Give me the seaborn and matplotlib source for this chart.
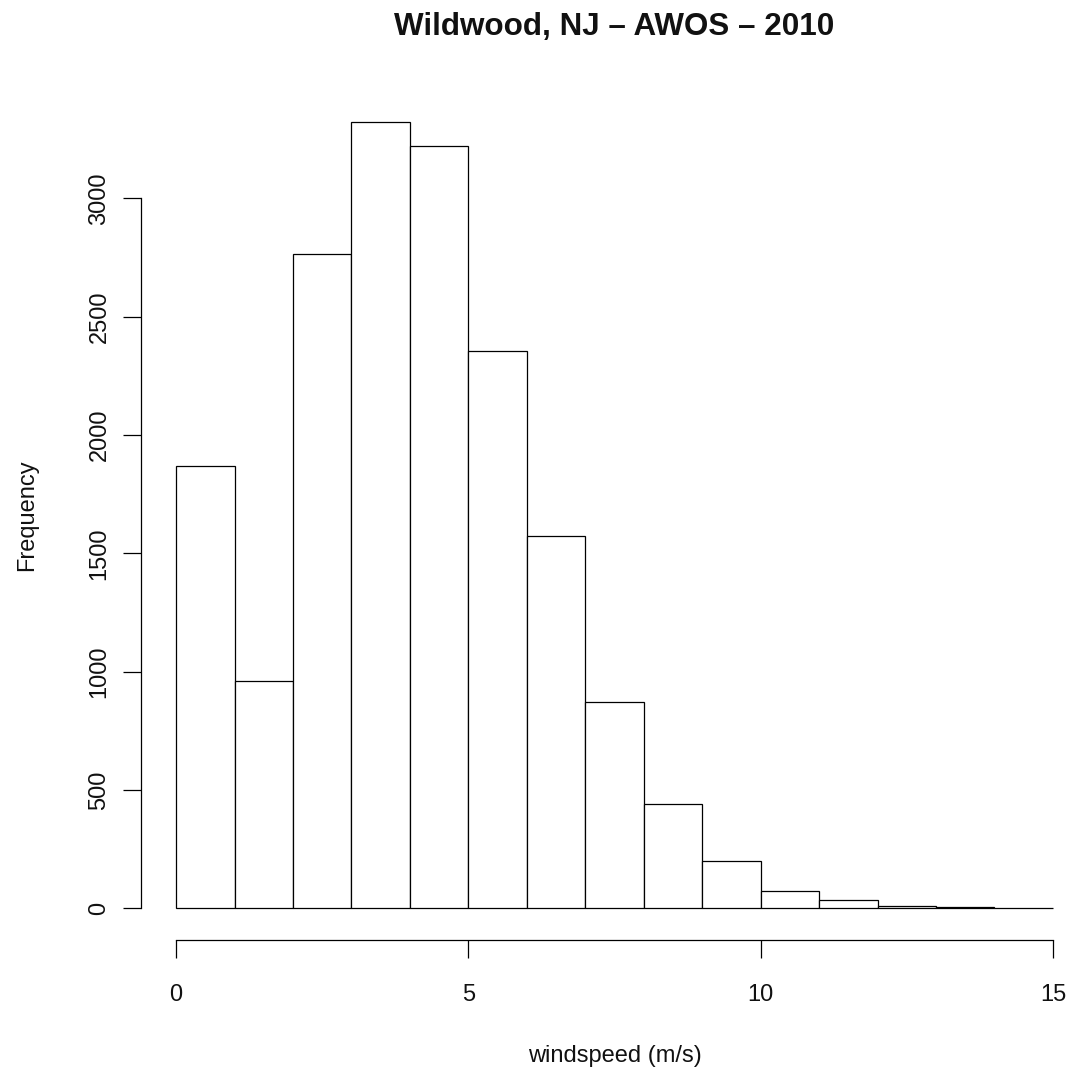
import matplotlib
matplotlib.use("Agg")
import matplotlib.pyplot as plt
import seaborn as sns
import numpy as np

# Data
bin_edges = [0, 1, 2, 3, 4, 5, 6, 7, 8, 9, 10, 11, 12, 13, 14, 15]
counts = [1868, 959, 2764, 3325, 3221, 2354, 1574, 870, 443, 202, 74, 34, 10, 5, 3]
x_ticks = [0, 5, 10, 15]
y_ticks = [0, 500, 1000, 1500, 2000, 2500, 3000]
title = "Wildwood, NJ \u2013 AWOS \u2013 2010"
xlabel = "windspeed (m/s)"
ylabel = "Frequency"

sns.set_style("white")
plt.rcParams["font.family"] = ["Liberation Sans", "DejaVu Sans"]

W, H = 1071, 1072
fig = plt.figure(figsize=(W / 100, H / 100), dpi=100)
# axes placement in pixels (R-style plot region)
left_px, right_px, top_px, bottom_px = 141, 1088, 90.1, 939.8
ax = fig.add_axes([left_px / W, 1 - bottom_px / H,
                   (right_px - left_px) / W, (bottom_px - top_px) / H])

centers = [(bin_edges[i] + bin_edges[i + 1]) / 2 for i in range(len(counts))]
sns.histplot(x=centers, weights=counts, bins=bin_edges, stat="count",
             color="white", edgecolor="black", linewidth=0.9, alpha=1,
             ax=ax)

ymax = max(counts)
ax.set_xlim(-0.6, 15.6)
ax.set_ylim(-0.04 * ymax, 1.04 * ymax)

for s in ["top", "right"]:
    ax.spines[s].set_visible(False)
for s in ["left", "bottom"]:
    ax.spines[s].set_color("black")
    ax.spines[s].set_linewidth(0.9)
ax.spines["left"].set_bounds(0, 3000)
ax.spines["bottom"].set_bounds(0, 15)

ax.set_xticks(x_ticks)
ax.set_yticks(y_ticks)
ax.tick_params(axis="both", direction="out", length=13, width=0.9,
               color="black", labelsize=17, labelcolor="#111111",
               bottom=True, left=True, top=False, right=False)
ax.tick_params(axis="x", pad=18.5)
ax.tick_params(axis="y", pad=9)
plt.setp(ax.get_yticklabels(), rotation=90, va="center")

ax.set_xlabel(xlabel, fontsize=17, color="#111111")
ax.set_ylabel(ylabel, fontsize=17, color="#111111")
ax.xaxis.label.set_va("center")
ax.yaxis.label.set_va("center")
ax.xaxis.set_label_coords(((176 + 1053) / 2 - left_px) / (right_px - left_px),
                          (bottom_px - 1056) / (bottom_px - top_px))
ax.yaxis.set_label_coords((27 - left_px) / (right_px - left_px), 0.5)

ax.set_title(title, fontsize=22.6, fontweight="bold", color="#111111",
             y=1 + (top_px - 35) / (bottom_px - top_px), pad=0)

ax.grid(False)
fig.savefig("out.png", dpi=100, facecolor="white")
